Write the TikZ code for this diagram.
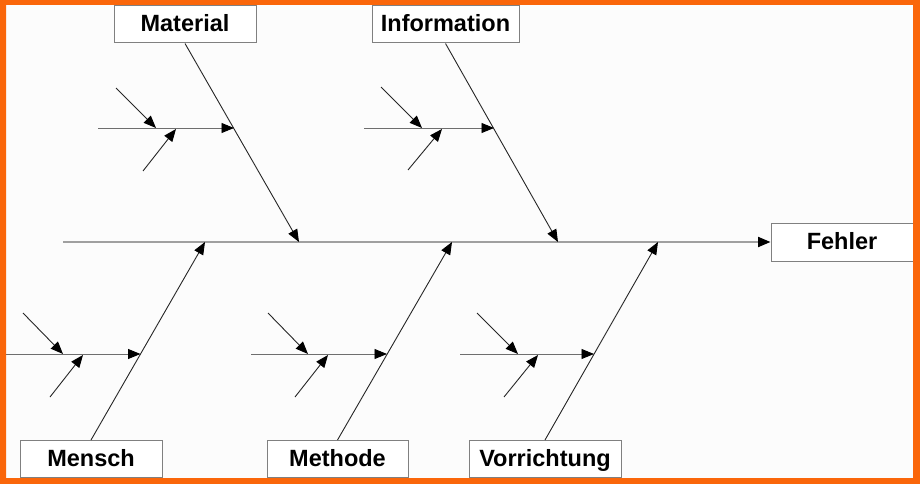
\documentclass[tikz,border=0pt]{standalone}
\usepackage{fontspec}
\setmainfont{Liberation Sans}
\usetikzlibrary{arrows.meta}
\definecolor{frameorange}{RGB}{250,102,10}
\definecolor{bgpaper}{RGB}{252,252,252}
\definecolor{boxline}{RGB}{128,128,128}
\definecolor{spinegray}{RGB}{160,160,160}
\definecolor{subgray}{RGB}{110,110,110}
\begin{document}
\begin{tikzpicture}[x=1pt,y=-1pt,
  tip/.style={-{Triangle[length=12.5pt,width=10pt,color=black]}},
  box/.style={draw=boxline,line width=1pt,fill=white,inner sep=0pt,minimum height=37pt,
    text height=17pt,text depth=3pt,
    font=\fontsize{23.5}{28}\selectfont\bfseries},
  spine/.style={draw=spinegray,line width=2pt,tip},
  bone/.style={draw=black!85,line width=0.9pt,tip},
  subbone/.style={draw=subgray,line width=0.9pt,tip},
  twig/.style={draw=black!85,line width=0.9pt,tip}]
\useasboundingbox (0,0) rectangle (920,484);
\fill[bgpaper] (0,0) rectangle (920,484);

% boxes
\node[box,minimum width=142pt] (mat) at (185,24.5) {Material};
\node[box,minimum width=147pt] (inf) at (445.5,24.5) {Information};
\node[box,minimum width=142pt] (men) at (91,459) {Mensch};
\node[box,minimum width=141pt] (met) at (337.5,459) {Methode};
\node[box,minimum width=152pt] (vor) at (545,459) {Vorrichtung};
\node[box,minimum width=142pt,minimum height=38pt] (feh) at (842,242) {Fehler};

% spine
\coordinate (sp0) at (63,242);
\draw[spine] (sp0) -- (feh.west);

% spine points
\coordinate (sMat) at (299,242);
\coordinate (sInf) at (558,242);
\coordinate (sMen) at (205,242);
\coordinate (sMet) at (452,242);
\coordinate (sVor) at (658,242);

% main bones
\draw[bone] (mat.south) -- (sMat);
\draw[bone] (inf.south) -- (sInf);
\draw[bone] (men.north) -- (sMen);
\draw[bone] (met.north) -- (sMet);
\draw[bone] (vor.north) -- (sVor);

% Material sub-bone
\coordinate (hMat0) at (98,128);
\coordinate (hMat1) at (234,128);
\coordinate (aMat1) at (156,128);
\coordinate (aMat2) at (176,129);
\coordinate (tMat1) at (116,88);
\coordinate (tMat2) at (143,171);
\draw[subbone] (hMat0) -- (hMat1);
\draw[twig] (tMat1) -- (aMat1);
\draw[twig] (tMat2) -- (aMat2);

% Information sub-bone
\coordinate (hInf0) at (364,128);
\coordinate (hInf1) at (494,128);
\coordinate (aInf1) at (422,128);
\coordinate (aInf2) at (442,129);
\coordinate (tInf1) at (381,87);
\coordinate (tInf2) at (408,170);
\draw[subbone] (hInf0) -- (hInf1);
\draw[twig] (tInf1) -- (aInf1);
\draw[twig] (tInf2) -- (aInf2);

% Mensch sub-bone
\coordinate (hMen0) at (6,354);
\coordinate (hMen1) at (140.5,354);
\coordinate (aMen1) at (63,354);
\coordinate (aMen2) at (83,355);
\coordinate (tMen1) at (23,313);
\coordinate (tMen2) at (50,397);
\draw[subbone] (hMen0) -- (hMen1);
\draw[twig] (tMen1) -- (aMen1);
\draw[twig] (tMen2) -- (aMen2);

% Methode sub-bone
\coordinate (hMet0) at (251,354);
\coordinate (hMet1) at (387,354);
\coordinate (aMet1) at (308,354);
\coordinate (aMet2) at (328,355);
\coordinate (tMet1) at (268,313);
\coordinate (tMet2) at (295,397);
\draw[subbone] (hMet0) -- (hMet1);
\draw[twig] (tMet1) -- (aMet1);
\draw[twig] (tMet2) -- (aMet2);

% Vorrichtung sub-bone
\coordinate (hVor0) at (460,354);
\coordinate (hVor1) at (594,354);
\coordinate (aVor1) at (518,354);
\coordinate (aVor2) at (538,355);
\coordinate (tVor1) at (477,313);
\coordinate (tVor2) at (504,397);
\draw[subbone] (hVor0) -- (hVor1);
\draw[twig] (tVor1) -- (aVor1);
\draw[twig] (tVor2) -- (aVor2);

% orange frame
\fill[frameorange,even odd rule] (0,0) rectangle (920,484) (6,5) rectangle (913,478);
\end{tikzpicture}
\end{document}
